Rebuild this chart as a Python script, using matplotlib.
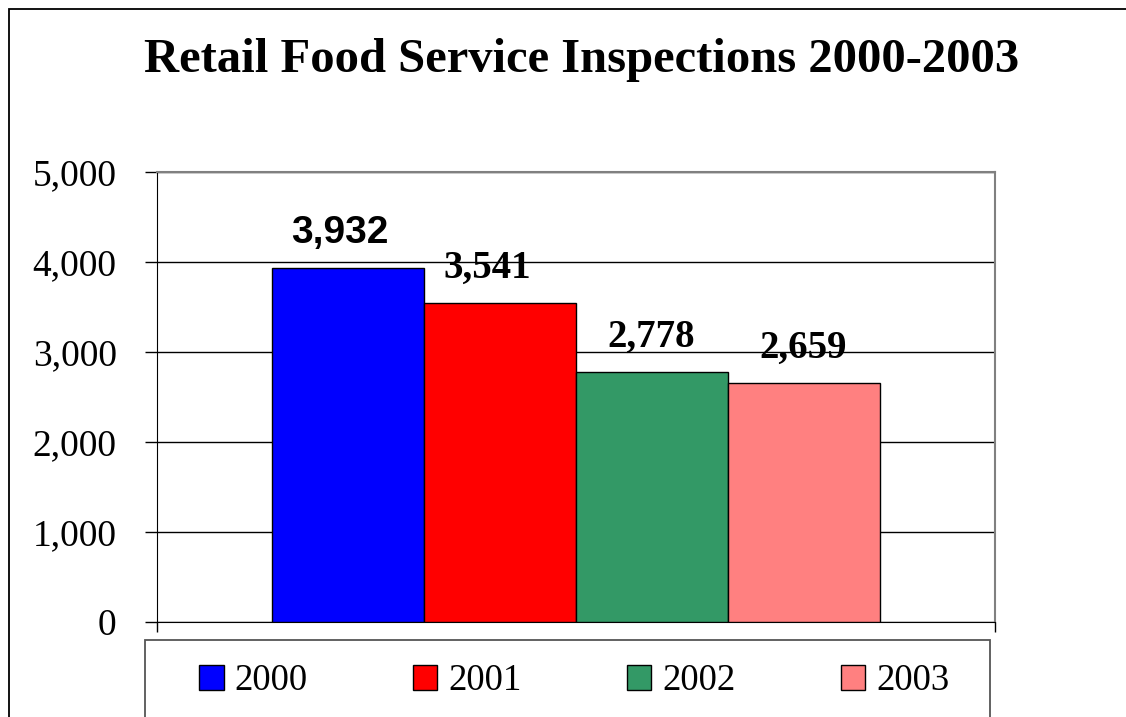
import matplotlib
matplotlib.use('Agg')
import matplotlib.pyplot as plt
from matplotlib.patches import Patch, Rectangle

# data
years = ['2000', '2001', '2002', '2003']
inspections = [3932, 3541, 2778, 2659]
colors = ['#0000FF', '#FF0000', '#339966', '#FF8080']
label_fonts = ['Liberation Sans', 'Liberation Serif', 'Liberation Serif', 'Liberation Serif']
label_dx = [-8, -13, -1, -1]
yticks = [0, 1000, 2000, 3000, 4000, 5000]

plt.rcParams['font.family'] = ['Liberation Serif', 'DejaVu Sans']

fig = plt.figure(figsize=(11.26, 7.17), dpi=100)
ax = fig.add_axes([157/1126, 1-622/717, 838/1126, 450/717])

# outer chart border (left and top only visible)
fig.add_artist(Rectangle((9/1126, -0.2), 2, 1-9/717+0.2, transform=fig.transFigure,
                         fill=False, edgecolor='black', linewidth=1.3))

w = 0.1816
for i, (yr, val) in enumerate(zip(years, inspections)):
    x = (i - 1.5) * w
    ax.bar(x, val, width=w, color=colors[i], edgecolor='black', linewidth=1, zorder=3, label=yr)
    ax.annotate(f'{val:,}', (x, val), xytext=(label_dx[i]*0.72, 18), textcoords='offset points',
                ha='center', va='baseline', fontsize=28, fontweight='bold',
                family=label_fonts[i], zorder=4)

ax.set_xlim(-0.5, 0.5)
ax.set_ylim(0, 5000)
ax.set_yticks(yticks)
ax.set_yticklabels([f'{t:,}' for t in yticks])
ax.set_xticks([-0.5, 0.5])
ax.set_xticklabels(['', ''])
ax.tick_params(axis='y', direction='out', length=9, width=1, pad=20, labelsize=27)
ax.tick_params(axis='x', direction='out', length=7, width=1)
ax.grid(axis='y', color='black', linewidth=1, zorder=0)
ax.set_axisbelow(True)
ax.spines['top'].set_color('#808080')
ax.spines['right'].set_color('#808080')
ax.spines['top'].set_linewidth(1.5)
ax.spines['right'].set_linewidth(1.5)

fig.text(582/1126, 1-72/717, 'Retail Food Service Inspections 2000-2003',
         ha='center', va='baseline', fontsize=35, fontweight='bold')

# legend box, cut off by the bottom edge
fig.add_artist(Rectangle((145/1126, -0.1), 845/1126, 1-640/717+0.1, transform=fig.transFigure,
                         fill=False, edgecolor='#555555', linewidth=1.3))
handles = [Patch(facecolor=c, edgecolor='black', linewidth=1) for c in colors]
fig.legend(handles, years, loc='center left', bbox_to_anchor=(199/1126, 1-681/717),
           ncol=4, frameon=False, fontsize=26.5, handlelength=0.67, handleheight=0.67,
           handletextpad=0.3, columnspacing=2.85, borderpad=0, borderaxespad=0)

def main():
    fig.savefig('out.png', dpi=100)

if __name__ == "__main__":
    main()
